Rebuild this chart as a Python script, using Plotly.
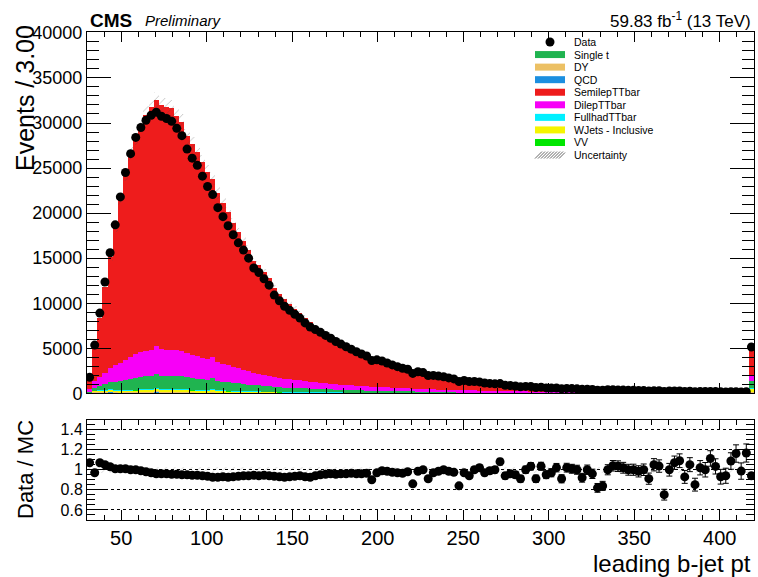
import numpy as np
import plotly.graph_objects as go

# Binning of the leading b-jet pt histogram (last bin holds the overflow)
bin_lo, bin_hi, bin_w = 30.0, 420.0, 3.0
centers = np.arange(bin_lo + bin_w / 2, bin_hi, bin_w)

data_counts = [
    1776, 5354, 8902, 12359, 15605, 18695, 21796, 24503, 26600, 28400,
    29502, 30302, 30856, 31200, 30749, 30499, 30197, 29404, 28595, 27104,
    26101, 25298, 24102, 22954, 22052, 20600, 19604, 18602, 17596, 16699,
    15895, 15002, 13901, 13404, 12701, 12004, 10902, 10277, 9666, 9207,
    8770, 8347, 7812, 7354, 7069, 6764, 6427, 6115, 5749, 5462,
    5165, 4902, 4608, 4358, 4140, 3645, 3715, 3584, 3369, 3149,
    2959, 2779, 2666, 2210, 2394, 2300, 1975, 1989, 1911, 1835,
    1709, 1599, 1302, 1421, 1302, 1310, 1265, 1140, 1099, 1050,
    1075, 888, 859, 808, 733, 765, 753, 632, 683, 599,
    582, 590, 506, 546, 520, 496, 440, 460, 425, 350,
    345, 396, 396, 380, 360, 340, 328, 311, 304, 267,
    296, 282, 197, 252, 260, 255, 209, 228, 178, 205,
    194, 208, 186, 161, 157, 175, 180, 147, 168, 5142,
]

semilep_ttbar = [
    1215, 4180, 6543, 9486, 12329, 15332, 18266, 20525, 22534, 24069,
    25246, 26189, 26967, 27260, 27136, 26932, 26783, 26024, 25421, 24109,
    23377, 22674, 21712, 20778, 19807, 18849, 17816, 17019, 16022, 15099,
    14311, 13508, 12441, 12062, 11374, 10801, 9858, 9325, 8821, 8343,
    7889, 7454, 7041, 6658, 6286, 5943, 5610, 5300, 5000, 4719,
    4452, 4193, 3955, 3729, 3515, 3308, 3121, 2941, 2772, 2609,
    2457, 2310, 2174, 2048, 1930, 1819, 1709, 1610, 1518, 1430,
    1347, 1270, 1196, 1125, 1060, 998, 940, 889, 837, 789,
    745, 704, 664, 628, 593, 562, 535, 508, 482, 459,
    436, 419, 404, 388, 372, 359, 345, 333, 320, 309,
    297, 285, 276, 266, 255, 246, 237, 228, 219, 212,
    204, 197, 189, 182, 174, 168, 162, 157, 150, 144,
    140, 134, 130, 125, 120, 117, 112, 108, 104, 3560,
]

dilep_ttbar = [
    210, 700, 980, 1300, 1600, 1880, 2000, 2240, 2450, 2620,
    2740, 2850, 2920, 3050, 2950, 2930, 2910, 2840, 2780, 2640,
    2560, 2480, 2380, 2280, 2350, 2070, 1960, 1870, 1760, 1660,
    1570, 1480, 1370, 1330, 1250, 1190, 1090, 1040, 990, 940,
    900, 860, 820, 780, 745, 710, 675, 645, 615, 585,
    560, 535, 510, 490, 470, 450, 430, 412, 394, 377,
    360, 345, 330, 316, 302, 290, 278, 266, 255, 244,
    234, 224, 214, 205, 196, 188, 180, 172, 165, 158,
    151, 145, 139, 133, 127, 122, 117, 112, 107, 103,
    99, 96, 92, 89, 86, 83, 80, 77, 74, 72,
    69, 67, 64, 62, 60, 58, 56, 54, 52, 50,
    48, 46, 45, 43, 42, 40, 39, 37, 36, 35,
    33, 32, 31, 30, 29, 28, 27, 26, 25, 560,
]

single_t = [
    110, 330, 480, 640, 780, 920, 990, 1110, 1220, 1300,
    1370, 1420, 1460, 1560, 1470, 1460, 1450, 1420, 1390, 1310,
    1270, 1230, 1180, 1130, 1200, 1030, 970, 930, 870, 820,
    780, 740, 680, 660, 620, 590, 540, 520, 490, 470,
    450, 430, 410, 390, 372, 356, 340, 325, 310, 295,
    282, 270, 258, 247, 236, 226, 216, 207, 198, 190,
    182, 175, 168, 161, 155, 149, 143, 137, 131, 126,
    121, 116, 111, 106, 102, 98, 94, 90, 86, 82,
    79, 76, 73, 70, 67, 64, 61, 59, 56, 54,
    52, 50, 48, 46, 45, 43, 42, 40, 39, 37,
    36, 35, 33, 32, 31, 30, 29, 28, 27, 26,
    25, 24, 23, 22, 22, 21, 20, 19, 19, 18,
    17, 17, 16, 15, 15, 14, 14, 13, 13, 750,
]

wjets = [
    40, 100, 120, 140, 150, 160, 150, 170, 185, 200,
    210, 215, 225, 300, 225, 220, 220, 215, 210, 200,
    195, 185, 180, 170, 230, 155, 150, 140, 130, 125,
    120, 110, 105, 100, 95, 90, 85, 80, 75, 75,
    70, 68, 65, 62, 60, 57, 55, 52, 50, 48,
    46, 44, 42, 40, 38, 37, 35, 33, 32, 31,
    30, 29, 28, 27, 26, 25, 24, 23, 22, 21,
    20, 19, 18, 18, 17, 16, 16, 15, 14, 14,
    13, 13, 12, 12, 11, 11, 10, 10, 10, 9,
    9, 9, 8, 8, 8, 7, 7, 7, 7, 6,
    6, 6, 6, 5, 5, 5, 5, 5, 5, 4,
    4, 4, 4, 4, 4, 4, 3, 3, 3, 3,
    3, 3, 3, 3, 3, 2, 2, 2, 2, 450,
]

drell_yan = [
    30, 60, 70, 80, 90, 90, 65, 70, 80, 85,
    90, 95, 95, 100, 95, 95, 95, 90, 90, 85,
    85, 80, 75, 75, 75, 65, 65, 60, 55, 55,
    50, 50, 45, 45, 40, 40, 35, 35, 30, 30,
    30, 28, 27, 25, 24, 22, 21, 20, 19, 18,
    17, 16, 15, 14, 13, 12, 12, 11, 10, 10,
    9, 9, 8, 8, 7, 7, 7, 6, 6, 6,
    5, 5, 5, 5, 4, 4, 4, 4, 4, 3,
    3, 3, 3, 3, 3, 2, 2, 2, 2, 2,
    2, 2, 2, 2, 2, 2, 2, 1, 1, 1,
    1, 1, 1, 1, 1, 1, 1, 1, 1, 1,
    1, 1, 1, 1, 1, 1, 1, 1, 1, 1,
    1, 1, 0, 0, 0, 0, 0, 0, 0, 50,
]

qcd = [
    40, 120, 90, 80, 150, 70, 60, 90, 70, 60,
    75, 80, 70, 150, 80, 60, 90, 130, 140, 120,
    70, 60, 55, 60, 120, 50, 70, 45, 40, 60,
    40, 35, 35, 30, 30, 30, 25, 25, 20, 20,
    20, 20, 18, 18, 16, 16, 15, 14, 13, 12,
    12, 11, 10, 10, 9, 9, 8, 8, 7, 7,
    6, 6, 6, 5, 5, 5, 5, 4, 4, 4,
    4, 3, 3, 3, 3, 3, 3, 2, 2, 2,
    2, 2, 2, 2, 2, 2, 1, 1, 1, 1,
    1, 1, 1, 1, 1, 1, 1, 1, 1, 1,
    1, 1, 1, 1, 1, 0, 0, 0, 0, 0,
    0, 0, 0, 0, 0, 0, 0, 0, 0, 0,
    0, 0, 0, 0, 0, 0, 0, 0, 0, 50,
]

diboson = [
    5, 10, 12, 14, 16, 18, 17, 19, 21, 23,
    24, 25, 25, 30, 26, 25, 25, 25, 24, 23,
    22, 21, 20, 20, 22, 18, 17, 16, 15, 14,
    14, 13, 12, 12, 11, 10, 10, 9, 9, 8,
    8, 8, 8, 7, 7, 7, 6, 6, 6, 6,
    5, 5, 5, 5, 4, 4, 4, 4, 4, 3,
    3, 3, 3, 3, 3, 3, 2, 2, 2, 2,
    2, 2, 2, 2, 2, 2, 2, 2, 1, 1,
    1, 1, 1, 1, 1, 1, 1, 1, 1, 1,
    1, 1, 1, 1, 1, 1, 1, 1, 1, 1,
    1, 1, 0, 0, 0, 0, 0, 0, 0, 0,
    0, 0, 0, 0, 0, 0, 0, 0, 0, 0,
    0, 0, 0, 0, 0, 0, 0, 0, 0, 30,
]

fullhad_ttbar = [
    10, 20, 25, 30, 35, 40, 32, 36, 40, 43,
    45, 46, 48, 50, 48, 48, 47, 46, 45, 43,
    41, 40, 38, 37, 36, 33, 32, 30, 28, 27,
    25, 24, 22, 21, 20, 19, 17, 16, 15, 14,
    13, 12, 11, 10, 10, 9, 8, 8, 7, 7,
    6, 6, 5, 5, 5, 4, 4, 4, 3, 3,
    3, 3, 3, 2, 2, 2, 2, 2, 2, 2,
    2, 1, 1, 1, 1, 1, 1, 1, 1, 1,
    1, 1, 1, 1, 1, 1, 1, 1, 1, 1,
    0, 0, 0, 0, 0, 0, 0, 0, 0, 0,
    0, 0, 0, 0, 0, 0, 0, 0, 0, 0,
    0, 0, 0, 0, 0, 0, 0, 0, 0, 0,
    0, 0, 0, 0, 0, 0, 0, 0, 0, 20,
]

# Flat relative uncertainty on the simulation
mc_rel_unc = 0.03

# Stack order, bottom to top
stack = [
    ("QCD", qcd, "#1c8fe0"),
    ("DY", drell_yan, "#ecc064"),
    ("WJets - Inclusive", wjets, "#f5f500"),
    ("VV", diboson, "#00e600"),
    ("FullhadTTbar", fullhad_ttbar, "#00f0ff"),
    ("Single t", single_t, "#20b450"),
    ("DilepTTbar", dilep_ttbar, "#f700f7"),
    ("SemilepTTbar", semilep_ttbar, "#ee1c1c"),
]

legend_rows = [
    ("Data", None),
    ("Single t", "#20b450"),
    ("DY", "#ecc064"),
    ("QCD", "#1c8fe0"),
    ("SemilepTTbar", "#ee1c1c"),
    ("DilepTTbar", "#f700f7"),
    ("FullhadTTbar", "#00f0ff"),
    ("WJets - Inclusive", "#f5f500"),
    ("VV", "#00e600"),
    ("Uncertainty", "hatch"),
]

FONT = "Liberation Sans"
W, H = 758, 577
ML, MR, MT, MB = 87, 4, 32, 57
PW, PH = W - ML - MR, H - MT - MB


def px(x):
    return (x - ML) / PW


def py(y):
    return (H - MB - y) / PH


fig = go.Figure()

data = np.array(data_counts, dtype=float)
base = np.zeros(len(centers))
for name, vals, col in stack:
    v = np.array(vals, dtype=float)
    fig.add_trace(go.Bar(
        x=centers, y=v, base=base.copy(), width=bin_w, name=name,
        marker=dict(color=col, line=dict(width=0)),
        xaxis="x", yaxis="y", showlegend=False, hoverinfo="skip",
    ))
    base = base + v
total = base

# Hatched uncertainty band on the stack
fig.add_trace(go.Bar(
    x=centers, y=2 * mc_rel_unc * total, base=total * (1 - mc_rel_unc),
    width=bin_w, xaxis="x", yaxis="y", showlegend=False, hoverinfo="skip",
    marker=dict(color="rgba(0,0,0,0)", line=dict(width=0),
                pattern=dict(shape="/", fgcolor="rgba(70,70,70,0.85)",
                             bgcolor="rgba(0,0,0,0)", size=6, solidity=0.12,
                             fillmode="overlay")),
))

fig.add_trace(go.Scatter(
    x=centers, y=data, mode="markers", xaxis="x", yaxis="y",
    marker=dict(color="black", size=9),
    error_y=dict(type="data", array=np.sqrt(data), color="black",
                 thickness=1, width=0),
    showlegend=False, hoverinfo="skip",
))

# Ratio panel
ratio = data / total
ratio_err = np.sqrt(data) / total
fig.add_trace(go.Bar(
    x=centers, y=np.full(len(centers), 2 * mc_rel_unc),
    base=np.full(len(centers), 1 - mc_rel_unc),
    width=bin_w, xaxis="x2", yaxis="y2", showlegend=False, hoverinfo="skip",
    marker=dict(color="rgba(0,0,0,0)", line=dict(width=0),
                pattern=dict(shape="/", fgcolor="rgba(90,90,90,0.6)",
                             bgcolor="rgba(0,0,0,0)", size=6, solidity=0.12,
                             fillmode="overlay")),
))
fig.add_trace(go.Scatter(
    x=centers, y=ratio, mode="markers", xaxis="x2", yaxis="y2",
    marker=dict(color="black", size=9),
    error_y=dict(type="data", array=ratio_err, color="black",
                 thickness=1, width=3),
    showlegend=False, hoverinfo="skip",
))

axis_common = dict(
    showline=True, linecolor="black", linewidth=1, mirror="allticks",
    ticks="inside", tickcolor="black", tickwidth=1, zeroline=False,
    showgrid=False,
)

fig.update_layout(
    width=W, height=H, autosize=False,
    margin=dict(l=ML, r=MR, t=MT, b=MB),
    paper_bgcolor="white", plot_bgcolor="white",
    barmode="overlay", bargap=0,
    font=dict(family=FONT, color="black"),
    xaxis=dict(
        domain=[0, 1], anchor="y", range=[bin_lo, bin_hi],
        tick0=0, dtick=50, ticklen=10, showticklabels=False,
        minor=dict(ticks="inside", tick0=0, dtick=10, ticklen=5,
                   tickcolor="black"),
        **axis_common,
    ),
    yaxis=dict(
        domain=[py(393.3), 1], anchor="x", range=[0, 40100],
        tickvals=list(range(0, 40001, 5000)), tickformat="d",
        ticklen=24, tickfont=dict(size=18),
        minor=dict(ticks="inside", tick0=0, dtick=1000, ticklen=12,
                   tickcolor="black"),
        **axis_common,
    ),
    xaxis2=dict(
        domain=[0, 1], anchor="y2", range=[bin_lo, bin_hi],
        tick0=0, dtick=50, ticklen=10, tickfont=dict(size=20),
        minor=dict(ticks="inside", tick0=0, dtick=10, ticklen=5,
                   tickcolor="black"),
        **axis_common,
    ),
    yaxis2=dict(
        domain=[0, py(419.5)], anchor="x2", range=[0.5, 1.5],
        tickvals=[0.6, 0.8, 1.0, 1.2, 1.4],
        ticktext=["0.6", "0.8", "1", "1.2", "1.4"],
        ticklen=18, tickfont=dict(size=16),
        minor=dict(ticks="inside", tick0=0.5, dtick=0.05, ticklen=8,
                   tickcolor="black"),
        showline=True, linecolor="black", linewidth=1, mirror="allticks",
        ticks="inside", tickcolor="black", tickwidth=1, zeroline=False,
        showgrid=True, gridcolor="black", gridwidth=1, griddash="dot",
    ),
)

annotations = [
    dict(x=px(88), y=py(20), text="<b>CMS</b>", xanchor="left",
         yanchor="middle", font=dict(size=19)),
    dict(x=px(143), y=py(20), text="<i>Preliminary</i>", xanchor="left",
         yanchor="middle", font=dict(size=15)),
    dict(x=px(753), y=py(20), text="59.83 fb<sup>-1</sup> (13 TeV)",
         xanchor="right", yanchor="middle", font=dict(size=17)),
    dict(x=px(25), y=py(23), text="Events / 3.00", textangle=-90,
         xanchor="center", yanchor="top", font=dict(size=25)),
    dict(x=px(25), y=py(470), text="Data / MC", textangle=-90,
         xanchor="center", yanchor="middle", font=dict(size=22)),
    dict(x=px(753), y=py(563), text="leading b-jet pt", xanchor="right",
         yanchor="middle", font=dict(size=24)),
]

shapes = []
row0, row_step = 42.0, 12.56
for k, (label, col) in enumerate(legend_rows):
    yc = row0 + k * row_step
    annotations.append(dict(x=px(572), y=py(yc), text=label, xanchor="left",
                            yanchor="middle", font=dict(size=10.5)))
    if col is None:
        shapes.append(dict(type="circle", xref="paper", yref="paper",
                           x0=px(545.5), x1=px(554.5), y0=py(yc + 4.5),
                           y1=py(yc - 4.5), fillcolor="black",
                           line=dict(width=0)))
    elif col == "hatch":
        for x0 in range(535, 562, 3):
            x1 = min(x0 + 7, 565)
            shapes.append(dict(type="line", xref="paper", yref="paper",
                               x0=px(x0), y0=py(yc + 3.5), x1=px(x1),
                               y1=py(yc + 3.5 - (x1 - x0)),
                               line=dict(color="#666666", width=1)))
    else:
        shapes.append(dict(type="rect", xref="paper", yref="paper",
                           x0=px(535), x1=px(565), y0=py(yc + 3.5),
                           y1=py(yc - 3.5), fillcolor=col,
                           line=dict(width=0)))

for a in annotations:
    a.update(xref="paper", yref="paper", showarrow=False)

fig.update_layout(annotations=annotations, shapes=shapes)

fig.write_html("out.html")
